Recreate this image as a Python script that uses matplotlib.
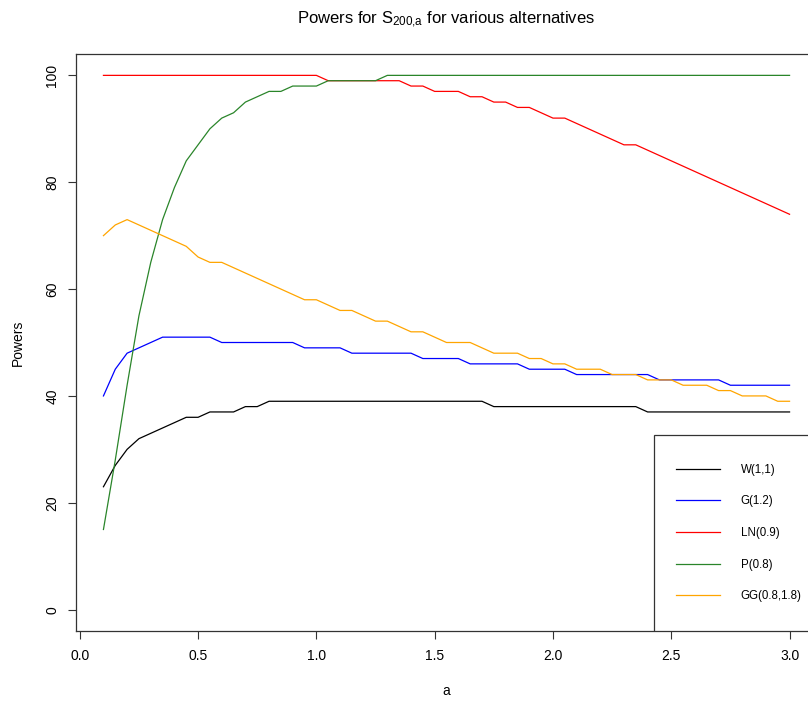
import numpy as np
import matplotlib
matplotlib.use("Agg")
import matplotlib.pyplot as plt
from matplotlib.patches import Rectangle

plt.rcParams['font.family'] = ['Liberation Sans', 'DejaVu Sans']
plt.rcParams['mathtext.default'] = 'regular'

# a grid 0.10 .. 3.00 step 0.05
a_vals = np.round(np.arange(0.10, 3.0001, 0.05), 2)

w11 = [23, 27, 30, 32, 33, 34, 35, 36, 36, 37, 37, 37, 38, 38] + [39] * 19 + [38] * 13 + [37] * 13

g12 = [40, 45, 48, 49, 50] + [51] * 5 + [50] * 7 + [49] * 4 + [48] * 6 + [47] * 4 \
    + [46] * 5 + [45] * 4 + [44] * 7 + [43] * 6 + [42] * 6

ln09 = [100] * 19 + [99] * 7 + [98] * 2 + [97] * 3 + [96] * 2 + [95] * 2 + [94] * 2 \
    + [93, 92, 92, 91, 90, 89, 88, 87, 87] \
    + [86, 85, 84, 83, 82, 81, 80, 79, 78, 77, 76, 75, 74]

p08 = [15, 28, 42, 55, 65, 73, 79, 84, 87, 90, 92, 93, 95, 96, 97, 97, 98, 98, 98] \
    + [99] * 5 + [100] * 35

gg = [70, 72, 73, 72, 71, 70, 69, 68, 66, 65, 65, 64, 63, 62, 61, 60, 59, 58, 58,
      57, 56, 56, 55, 54, 54, 53, 52, 52, 51, 50, 50, 50, 49, 48, 48, 48, 47, 47, 46,
      46, 45, 45, 45, 44, 44, 44, 43, 43, 43, 42, 42, 42, 41, 41, 40, 40, 40, 39, 39]

labels = ["W(1,1)", "G(1.2)", "LN(0.9)", "P(0.8)", "GG(0.8,1.8)"]
colors = ["black", "#0000ff", "#ff0000", "#2a852a", "#ffa500"]
series = [w11, g12, ln09, p08, gg]

fig = plt.figure(figsize=(8.08, 7.02), dpi=100)
# plot box runs past the right edge of the picture (cropped R device)
ax = fig.add_axes([76 / 808, 1 - 631 / 702, 741 / 808, 577 / 702])

lines = []
for vals, col, lab in zip(series, colors, labels):
    ln, = ax.plot(a_vals, vals, color=col, lw=0.9, label=lab)
    lines.append(ln)

ax.set_xlim(-0.016, 3.116)
ax.set_ylim(-4, 104)
ax.set_xticks(np.arange(0, 3.01, 0.5))
ax.set_xticklabels([f"{t:.1f}" for t in np.arange(0, 3.01, 0.5)])
ax.set_yticks(range(0, 101, 20))
ax.tick_params(length=6, width=0.8, color='#333333', labelsize=10, pad=7)
ax.tick_params(axis='y', labelrotation=90, pad=6)
for t in ax.get_yticklabels():
    t.set_va('center')
for s in ax.spines.values():
    s.set_color('#333333')
    s.set_linewidth(0.9)

ax.set_xlabel("a", fontsize=10)
ax.set_ylabel("Powers", fontsize=10)
ax.xaxis.set_label_coords(370.5 / 741, -(691 - 631) / 577)
ax.xaxis.label.set_va('center')
ax.yaxis.set_label_coords(-(76 - 18) / 741, 0.5)
ax.yaxis.label.set_va('center')

fig.text(446.5 / 808, 1 - 20 / 702, "Powers for $S_{200{,}a}$ for various alternatives",
         ha='center', va='center', fontsize=12)

# legend box (bottom right, square frame)
box = Rectangle((578 / 741, 0), 1 - 578 / 741, 196 / 577, transform=ax.transAxes,
                facecolor='white', edgecolor='#333333', lw=0.9, zorder=3)
ax.add_patch(box)
leg = ax.legend(handles=lines, loc='center left',
                bbox_to_anchor=((676 - 76) / 741, (631 - 533) / 577),
                frameon=False, borderpad=0, borderaxespad=0, fontsize=8.3,
                handlelength=3.8, handletextpad=1.8, labelspacing=1.7)
leg.set_zorder(4)

fig.savefig("out.png", dpi=100)
